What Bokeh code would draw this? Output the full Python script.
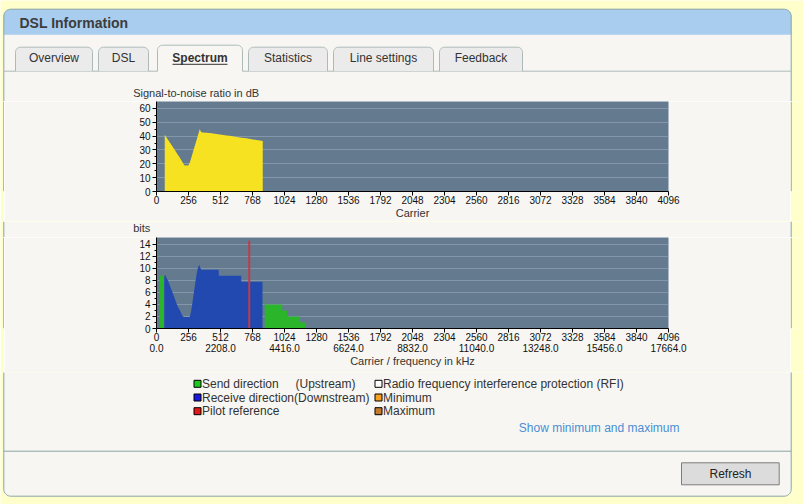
import numpy as np
from bokeh.plotting import figure
from bokeh.models import Range1d, LinearAxis, FixedTicker
from bokeh.layouts import column, row
from bokeh.core.properties import value
from bokeh.embed import file_html
from bokeh.resources import INLINE

# ---------------- data ----------------
snr_carrier = [66, 66, 80, 100, 120, 140, 160, 180, 200, 216, 226, 254, 266, 280, 300, 320, 338, 346, 356, 366,
               400, 440, 480, 520, 560, 600, 640, 680, 720, 760, 800, 840, 850, 850]
snr_db = [0, 40.9, 39.0, 36.3, 33.6, 30.8, 28.0, 25.2, 22.3, 19.8, 18.8, 18.8, 20.7, 24.9, 31.0, 37.0, 42.6, 45.0, 43.2, 42.6,
          42.5, 42.1, 41.6, 40.9, 40.5, 40.0, 39.4, 38.9, 38.4, 37.8, 37.2, 36.6, 36.4, 0]

ds_carrier = [62, 62, 70, 78, 94, 110, 126, 142, 158, 174, 190, 204, 218, 266, 278, 292, 306, 320, 330, 342,
              350, 358, 498, 498, 678, 678, 848, 848]
ds_bits = [0, 8.7, 8.9, 8.5, 7.9, 7.0, 6.1, 5.2, 4.3, 3.5, 2.9, 2.2, 1.9, 1.9, 3.0, 5.0, 7.0, 9.0, 10.0, 10.6,
           10.1, 9.8, 9.8, 8.8, 8.8, 7.8, 7.8, 0]

us0_carrier = [26, 26, 60, 60]
us0_bits = [0, 8.8, 8.8, 0]
us1_carrier = [866, 866, 874, 1006, 1006, 1046, 1046, 1146, 1146, 1194, 1194]
us1_bits = [0, 4.9, 4.0, 4.0, 3.0, 3.0, 2.0, 2.0, 1.05, 1.05, 0]

pilot_carrier = [742]
pilot_bits = [14.6]

carrier_ticks = [0, 256, 512, 768, 1024, 1280, 1536, 1792, 2048, 2304, 2560, 2816, 3072, 3328, 3584, 3840, 4096]
khz_tick_carriers = [0, 512, 1024, 1536, 2048, 2560, 3072, 3584, 4096]
khz_tick_labels = ["0.0", "2208.0", "4416.0", "6624.0", "8832.0", "11040.0", "13248.0", "15456.0", "17664.0"]
snr_ticks = [0, 10, 20, 30, 40, 50, 60]
snr_minor = [5, 15, 25, 35, 45, 55]
bits_ticks = [0, 2, 4, 6, 8, 10, 12, 14]
bits_minor = [1, 3, 5, 7, 9, 11, 13]

tab_labels = ["Overview", "DSL", "Spectrum", "Statistics", "Line settings", "Feedback"]
legend_labels = ["Send direction", "Receive direction(Downstream)", "Pilot reference",
                 "Radio frequency interference protection (RFI)", "Minimum", "Maximum"]
legend_colors = ["#1ec81e", "#1818e0", "#e41818", "#ffffff", "#f5a01e", "#c67a2c"]

# ---------------- styles ----------------
YELLOW = "#ffffcc"
PANEL = "#f7f6f2"
BORDER = "#88a4a4"
HEADER = "#a9cdee"
TAB_FILL = "#ebebeb"
TAB_LINE = "#aebaba"
FRAME_BG = "#647b8f"
GRID = "#8497aa"
TEXT = "#333333"
FONT = "Liberation Sans"
W = 803
PX0, PX1 = 3.3, 790.7  # panel left / right edges (page px)


def canvas(h, w=W):
    f = figure(width=w, height=h, x_range=Range1d(0, w), y_range=Range1d(h, 0),
               x_axis_type=None, y_axis_type=None, min_border=0, title=None,
               output_backend="svg", toolbar_location=None)
    f.outline_line_color = None
    f.background_fill_color = YELLOW
    f.border_fill_color = YELLOW
    return f


def top_round(x0, x1, y0, y1, r, n=10):
    a = np.linspace(np.pi, 1.5 * np.pi, n)
    b = np.linspace(1.5 * np.pi, 2 * np.pi, n)
    xs = [x0] + list(x0 + r + r * np.cos(a)) + list(x1 - r + r * np.cos(b)) + [x1]
    ys = [y1] + list(y0 + r + r * np.sin(a)) + list(y0 + r + r * np.sin(b)) + [y1]
    return xs, ys


def bottom_round(x0, x1, y0, y1, r, n=10):
    a = np.linspace(np.pi, 0.5 * np.pi, n)
    b = np.linspace(0.5 * np.pi, 0, n)
    xs = [x0] + list(x0 + r + r * np.cos(a)) + list(x1 - r + r * np.cos(b)) + [x1]
    ys = [y0] + list(y1 - r + r * np.sin(a)) + list(y1 - r + r * np.sin(b)) + [y0]
    return xs, ys


# ---------------- header (page y 0..101) ----------------
hdr = canvas(101)
xs, ys = top_round(PX0, PX1, 8.7, 130, 7)
hdr.patch(xs, ys, fill_color=PANEL, line_color=None)
hx, hy = top_round(PX0, PX1, 8.7, 34.3, 7)
hdr.patch(hx, hy, fill_color=HEADER, line_color=None)
hdr.line(xs, ys, line_color=BORDER, line_width=1)
hdr.text(x=[19], y=[22], text=["DSL Information"], text_font=value(FONT), text_font_size="14px",
         text_font_style="bold", text_color="#3c3c3c", text_baseline="middle", text_align="left")

# tab strip
hdr.segment(x0=[PX0], y0=[70.7], x1=[PX1], y1=[70.7], line_color=TAB_LINE, line_width=1)
tab_edges = [(15, 92), (98, 148), (157, 242), (248, 327), (333, 433), (439, 522)]
active = 2
for i, (a0, a1) in enumerate(tab_edges):
    if i == active:
        fx, fy = top_round(a0, a1, 44.7, 72.5, 5)
        hdr.patch(fx, fy, fill_color=PANEL, line_color=None)
        ox, oy = top_round(a0, a1, 44.7, 70.7, 5)
        hdr.line(ox, oy, line_color=TAB_LINE, line_width=1)
    else:
        fx, fy = top_round(a0, a1, 46.7, 70.7, 5)
        hdr.patch(fx, fy, fill_color=TAB_FILL, line_color=None)
        hdr.line(fx, fy, line_color=TAB_LINE, line_width=1)
centers = [(a0 + a1) / 2 for a0, a1 in tab_edges]
plain = [i for i in range(len(tab_labels)) if i != active]
hdr.text(x=[centers[i] for i in plain], y=[57.5] * len(plain), text=[tab_labels[i] for i in plain],
         text_font=value(FONT), text_font_size="12px", text_color=TEXT,
         text_baseline="middle", text_align="center")
hdr.text(x=[centers[active]], y=[57.5], text=[tab_labels[active]], text_font=value(FONT),
         text_font_size="12px", text_font_style="bold", text_color=TEXT,
         text_baseline="middle", text_align="center")
hdr.segment(x0=[centers[active] - 27.5], y0=[63.8], x1=[centers[active] + 27.5], y1=[63.8],
            line_color=TEXT, line_width=1)
hdr.text(x=[132.7], y=[92.3], text=["Signal-to-noise ratio in dB"], text_font=value(FONT),
         text_font_size="11px", text_color=TEXT, text_baseline="middle", text_align="left")


def right_strip(h):
    s = canvas(h, w=13)
    s.quad(left=[0], right=[0.3], top=[0], bottom=[h], fill_color=PANEL, line_color=None)
    s.segment(x0=[0.7], y0=[0], x1=[0.7], y1=[h], line_color=BORDER, line_width=1)
    return s


def left_strip(h):
    s = canvas(h, w=4)
    s.quad(left=[3.8], right=[4], top=[0], bottom=[h], fill_color=PANEL, line_color=None)
    s.segment(x0=[PX0], y0=[0], x1=[PX0], y1=[h], line_color=BORDER, line_width=1)
    return s


def style_axis(ax, standoff=1):
    ax.axis_line_color = "black"
    ax.major_tick_line_color = "black"
    ax.minor_tick_line_color = "black"
    ax.major_tick_in = 0
    ax.major_tick_out = 4
    ax.minor_tick_in = 0
    ax.minor_tick_out = 2
    ax.major_label_text_font = FONT
    ax.major_label_text_font_size = "10px"
    ax.major_label_text_color = "#111111"
    ax.major_label_standoff = standoff
    ax.axis_label_text_font = FONT
    ax.axis_label_text_font_size = "11px"
    ax.axis_label_text_font_style = "normal"
    ax.axis_label_text_color = TEXT
    ax.axis_label_standoff = 0


def chart(h, y_end, bottom, yticks, yminor):
    # spans page x 4..790, frame at page x 156..668
    p = figure(width=786, height=h, x_range=Range1d(0, 4096), y_range=Range1d(0, y_end),
               min_border_left=152, min_border_right=122, min_border_top=0, min_border_bottom=bottom,
               title=None, output_backend="svg", toolbar_location=None)
    p.background_fill_color = FRAME_BG
    p.border_fill_color = PANEL
    p.outline_line_color = None
    p.xgrid.grid_line_color = None
    p.ygrid.ticker = FixedTicker(ticks=yticks)
    p.ygrid.grid_line_color = GRID
    p.xaxis.ticker = FixedTicker(ticks=carrier_ticks)
    p.yaxis.ticker = FixedTicker(ticks=yticks, minor_ticks=yminor)
    style_axis(p.xaxis[0], 0)
    style_axis(p.yaxis[0], 2)
    return p


# ---------------- SNR chart (page y 101..221) ----------------
snr = chart(120, 65, 29, snr_ticks, snr_minor)
snr.xaxis.axis_label = "Carrier"
snr.varea(x=snr_carrier, y1=0, y2=snr_db, fill_color="#f7e221")

# ---------------- "bits" label strip (page y 221..237) ----------------
blab = canvas(16)
blab.quad(left=[PX0], right=[PX1], top=[0], bottom=[16], fill_color=PANEL, line_color=None)
blab.segment(x0=[PX0, PX1], y0=[0, 0], x1=[PX0, PX1], y1=[16, 16], line_color=BORDER, line_width=1)
blab.text(x=[132.7], y=[6.3], text=["bits"], text_font=value(FONT), text_font_size="11px",
          text_color=TEXT, text_baseline="middle", text_align="left")

# ---------------- bits chart (page y 237..372) ----------------
bits = chart(135, 15.15, 44, bits_ticks, bits_minor)
bits.varea(x=us0_carrier, y1=0, y2=us0_bits, fill_color="#2bb52b")
bits.varea(x=ds_carrier, y1=0, y2=ds_bits, fill_color="#2249b0")
bits.varea(x=us1_carrier, y1=0, y2=us1_bits, fill_color="#2bb52b")
bits.segment(x0=pilot_carrier, y0=[0], x1=pilot_carrier, y1=pilot_bits, line_color="#c23a48", line_width=2)
khz_axis = LinearAxis(ticker=FixedTicker(ticks=khz_tick_carriers),
                      major_label_overrides=dict(zip(khz_tick_carriers, khz_tick_labels)),
                      axis_label="Carrier / frequency in kHz")
style_axis(khz_axis, 0)
khz_axis.axis_line_color = None
khz_axis.major_tick_line_color = None
khz_axis.major_tick_out = 0
khz_axis.minor_tick_out = 0
bits.add_layout(khz_axis, "below")

# ---------------- bottom (page y 372..504) ----------------
T = 372
bot = canvas(132)
bx, by = bottom_round(PX0, PX1, -5, 495.7 - T, 7)
bot.patch(bx, by, fill_color=PANEL, line_color=None)
bot.line(bx, by, line_color=BORDER, line_width=1)
bot.segment(x0=[PX0], y0=[450.7 - T], x1=[PX1], y1=[450.7 - T], line_color=BORDER, line_width=1)

rows_y = [383.3 - T, 397.0 - T, 410.7 - T]
mk_x = [197.0] * 3 + [378.0] * 3
mk_y = rows_y + rows_y
bot.rect(x=mk_x, y=mk_y, width=7, height=7, fill_color=legend_colors, line_color="black", line_width=1)
tx = [201.5] * 3 + [382.5] * 3
bot.text(x=tx, y=mk_y, text=legend_labels, text_font=value(FONT), text_font_size="12px",
         text_color=TEXT, text_baseline="middle", text_align="left")
bot.text(x=[295], y=[rows_y[0]], text=["(Upstream)"], text_font=value(FONT), text_font_size="12px",
         text_color=TEXT, text_baseline="middle", text_align="left")
bot.text(x=[518.3], y=[427.7 - T], text=["Show minimum and maximum"], text_font=value(FONT),
         text_font_size="12px", text_color="#4a8fd4", text_baseline="middle", text_align="left")
bot.quad(left=[681], right=[778.7], top=[462.3 - T], bottom=[484.3 - T], fill_color="#dcdcdc",
         line_color="#7d7d7d")
bot.text(x=[730], y=[473.3 - T], text=["Refresh"], text_font=value(FONT), text_font_size="12px",
         text_color="#222222", text_baseline="middle", text_align="center")

layout = column(hdr,
                row(left_strip(120), snr, right_strip(120)),
                blab,
                row(left_strip(135), bits, right_strip(135)),
                bot)

open("out.html", "w").write(file_html(layout, INLINE))
